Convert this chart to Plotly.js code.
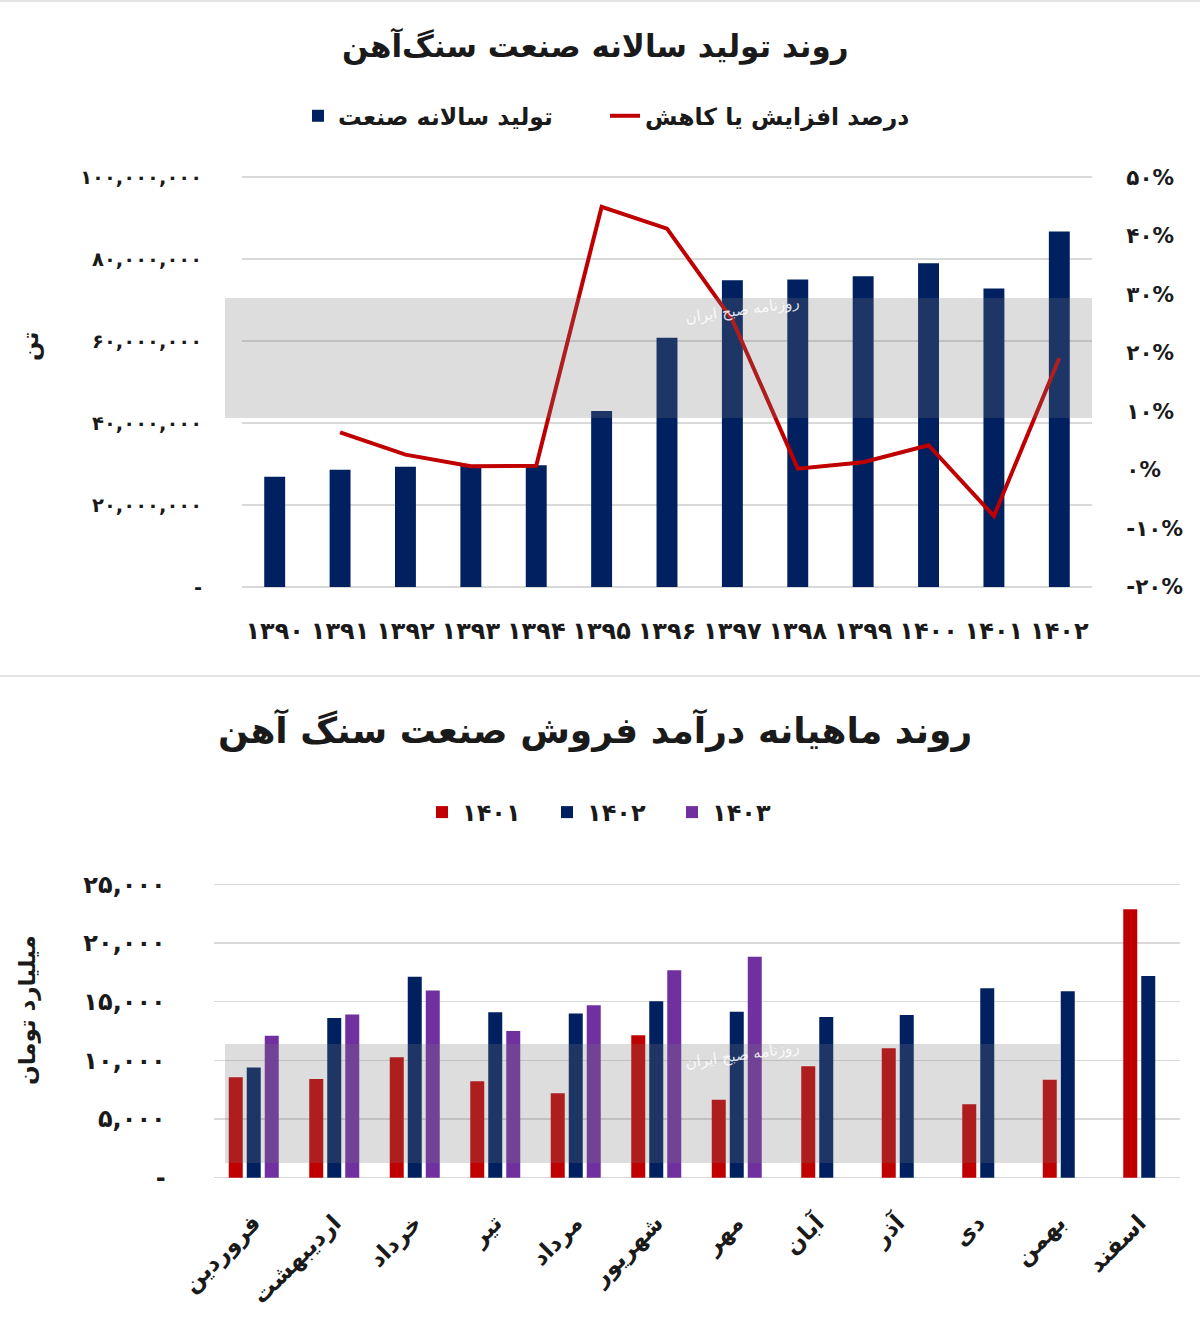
<!DOCTYPE html>
<html>
<head>
<meta charset="utf-8">
<script src="https://cdn.plot.ly/plotly-3.0.1.min.js"></script>
<style>
  html, body { margin: 0; padding: 0; background: #ffffff; }
  #chart { width: 1200px; height: 1337px; }
</style>
</head>
<body>
<div id="chart"></div>
<script>
// ---------- Data: top chart (annual production) ----------
const years = ['۱۳۹۰', '۱۳۹۱', '۱۳۹۲', '۱۳۹۳', '۱۳۹۴', '۱۳۹۵', '۱۳۹۶', '۱۳۹۷', '۱۳۹۸', '۱۳۹۹', '۱۴۰۰', '۱۴۰۱', '۱۴۰۲'];
const annualProduction = [26900000, 28600000, 29300000, 29600000, 29700000, 42900000, 60800000, 74800000, 75000000, 75800000, 79000000, 72800000, 86700000];
const changePercent = [null, 6.4, 2.6, 0.6, 0.7, 44.9, 41.2, 25.6, 0.2, 1.3, 4.2, -7.9, 19.1];

const prodTickVals = [0, 20000000, 40000000, 60000000, 80000000, 100000000];
const prodTickText = ['-', '۲۰,۰۰۰,۰۰۰', '۴۰,۰۰۰,۰۰۰', '۶۰,۰۰۰,۰۰۰', '۸۰,۰۰۰,۰۰۰', '۱۰۰,۰۰۰,۰۰۰'];
const pctTickVals = [-20, -10, 0, 10, 20, 30, 40, 50];
const pctTickText = ['-۲۰%', '-۱۰%', '۰%', '۱۰%', '۲۰%', '۳۰%', '۴۰%', '۵۰%'];

// ---------- Data: bottom chart (monthly revenue) ----------
const months = ['فروردین', 'اردیبهشت', 'خرداد', 'تیر', 'مرداد', 'شهریور', 'مهر', 'آبان', 'آذر', 'دی', 'بهمن', 'اسفند'];
const revenue1401 = [8550, 8410, 10260, 8210, 7190, 12130, 6650, 9490, 11030, 6250, 8350, 22870];
const revenue1402 = [9400, 13600, 17130, 14090, 14000, 15030, 14150, 13690, 13860, 16140, 15880, 17190];
const revenue1403 = [12100, 13900, 15940, 12500, 14690, 17670, 18830, null, null, null, null, null];
const revSeriesNames = ['۱۴۰۱', '۱۴۰۲', '۱۴۰۳'];

const revTickVals = [0, 5000, 10000, 15000, 20000, 25000];
const revTickText = ['-', '۵,۰۰۰', '۱۰,۰۰۰', '۱۵,۰۰۰', '۲۰,۰۰۰', '۲۵,۰۰۰'];

// ---------- Styles ----------
const NAVY = '#002060';
const RED = '#c00000';
const PURPLE = '#7030a0';
const GRID = '#d9d9d9';
const FONT = 'DejaVu Sans, Noto Sans, sans-serif';
const TXT = '#1a1a1a';

const W = 1200, H = 1337;
const px = v => v / W;
const py = v => 1 - v / H;
const PAD = 0.005; // small range padding so the edge gridlines are drawn
const padRange = (lo, hi) => [lo - (hi - lo) * PAD, hi + (hi - lo) * PAD];

// grouped-bar offsets: centre the bars that exist in each month
const revSeries = [revenue1401, revenue1402, revenue1403];
const revColors = [RED, NAVY, PURPLE];
const barW = 0.174, barStep = 0.2236;
function offsetsFor(sIdx) {
  return months.map((m, i) => {
    const present = revSeries.map(s => s[i] !== null && s[i] !== undefined);
    const n = present.filter(Boolean).length;
    let k = 0;
    for (let j = 0; j < sIdx; j++) if (present[j]) k++;
    const c = (k - (n - 1) / 2) * barStep;
    return c - barW / 2;
  });
}

const traces = [
  {
    type: 'bar', x: years, y: annualProduction, name: 'تولید سالانه صنعت',
    xaxis: 'x', yaxis: 'y', marker: { color: NAVY }, legend: 'legend'
  },
  {
    type: 'scatter', mode: 'lines', x: years, y: changePercent, name: 'درصد افزایش یا کاهش',
    xaxis: 'x', yaxis: 'y2', line: { color: RED, width: 4 }, legend: 'legend',
    connectgaps: false
  }
];
revSeries.forEach((s, idx) => {
  traces.push({
    type: 'bar', x: months, y: s, name: revSeriesNames[idx],
    xaxis: 'x2', yaxis: 'y3', marker: { color: revColors[idx] },
    width: barW, offset: offsetsFor(idx), legend: 'legend2'
  });
});

const tickFont = (size) => ({ family: FONT, size: size, color: TXT, weight: 'bold' });

const layout = {
  width: W, height: H,
  margin: { l: 0, r: 0, t: 0, b: 0 },
  paper_bgcolor: '#ffffff', plot_bgcolor: 'rgba(0,0,0,0)',
  barmode: 'overlay', bargap: 0.68,
  showlegend: true,
  font: { family: FONT, color: TXT },
  xaxis: {
    domain: [px(242), px(1092)], anchor: 'y', type: 'category',
    range: [-0.5, 12.5], showgrid: false, showline: false, zeroline: false,
    ticks: 'outside', ticklen: 20, tickcolor: 'rgba(0,0,0,0)',
    tickfont: tickFont(24), fixedrange: true
  },
  yaxis: {
    domain: [py(589), py(175)], anchor: 'x', range: padRange(0, 100000000),
    tickvals: prodTickVals, ticktext: prodTickText,
    showgrid: true, gridcolor: GRID, gridwidth: 1.5, zeroline: false, showline: false,
    ticks: 'outside', ticklen: 35, tickcolor: 'rgba(0,0,0,0)',
    tickfont: tickFont(19.5), fixedrange: true
  },
  yaxis2: {
    overlaying: 'y', side: 'right', anchor: 'x', range: padRange(-20, 50),
    tickvals: pctTickVals, ticktext: pctTickText,
    showgrid: false, zeroline: false, showline: false,
    ticks: 'outside', ticklen: 29, tickcolor: 'rgba(0,0,0,0)',
    tickfont: tickFont(21.5), fixedrange: true
  },
  xaxis2: {
    domain: [px(213.5), px(1179.5)], anchor: 'y3', type: 'category',
    range: [-0.5, 11.5], showgrid: false, showline: false, zeroline: false,
    ticks: 'outside', ticklen: 20, tickcolor: 'rgba(0,0,0,0)',
    tickangle: -45, tickfont: tickFont(23), fixedrange: true
  },
  yaxis3: {
    domain: [py(1179.2), py(882.8)], anchor: 'x2', range: padRange(0, 25000),
    tickvals: revTickVals, ticktext: revTickText,
    showgrid: true, gridcolor: GRID, gridwidth: 1.5, zeroline: false, showline: false,
    ticks: 'outside', ticklen: 42, tickcolor: 'rgba(0,0,0,0)',
    tickfont: tickFont(24), fixedrange: true
  },
  legend: {
    orientation: 'h', x: px(298), y: py(94), xanchor: 'left', yanchor: 'top',
    bgcolor: 'rgba(0,0,0,0)', font: { family: FONT, size: 23.5, color: TXT, weight: 'bold' },
    traceorder: 'normal', entrywidth: 262
  },
  legend2: {
    orientation: 'h', x: px(422), y: py(790), xanchor: 'left', yanchor: 'top',
    bgcolor: 'rgba(0,0,0,0)', font: { family: FONT, size: 24, color: TXT, weight: 'bold' },
    traceorder: 'normal', entrywidth: 80
  },
  annotations: [
    { text: 'روند تولید سالانه صنعت سنگ‌آهن', xref: 'paper', yref: 'paper', x: px(595), y: py(46),
      showarrow: false, xanchor: 'center', yanchor: 'middle',
      font: { family: FONT, size: 31, color: TXT, weight: 'bold' } },
    { text: 'روند ماهیانه درآمد فروش صنعت سنگ آهن', xref: 'paper', yref: 'paper', x: px(595), y: py(730),
      showarrow: false, xanchor: 'center', yanchor: 'middle',
      font: { family: FONT, size: 36, color: TXT, weight: 'bold' } },
    { text: 'تن', xref: 'paper', yref: 'paper', x: px(30), y: py(347), textangle: -90,
      showarrow: false, xanchor: 'center', yanchor: 'middle',
      font: { family: FONT, size: 23, color: TXT, weight: 'bold' } },
    { text: 'میلیارد تومان', xref: 'paper', yref: 'paper', x: px(27), y: py(1010), textangle: -90,
      showarrow: false, xanchor: 'center', yanchor: 'middle',
      font: { family: FONT, size: 23, color: TXT, weight: 'bold' } },
    { text: 'روزنامه صبح ایران', xref: 'paper', yref: 'paper', x: px(742), y: py(310), textangle: -8,
      showarrow: false, xanchor: 'center', yanchor: 'middle',
      font: { family: FONT, size: 15, color: 'rgba(255,255,255,0.85)' } },
    { text: 'روزنامه صبح ایران', xref: 'paper', yref: 'paper', x: px(742), y: py(1055), textangle: -8,
      showarrow: false, xanchor: 'center', yanchor: 'middle',
      font: { family: FONT, size: 15, color: 'rgba(255,255,255,0.85)' } }
  ],
  shapes: [
    // page separators
    { type: 'line', xref: 'paper', yref: 'paper', x0: 0, x1: 1, y0: py(1), y1: py(1),
      line: { color: '#e3e3e3', width: 2 } },
    { type: 'line', xref: 'paper', yref: 'paper', x0: 0, x1: 1, y0: py(676), y1: py(676),
      line: { color: '#e3e3e3', width: 2 } },
    // watermark bands
    { type: 'rect', xref: 'paper', yref: 'paper', x0: px(225), x1: px(1092), y0: py(418), y1: py(298),
      fillcolor: 'rgba(120,120,120,0.25)', line: { width: 0 }, layer: 'above' },
    { type: 'rect', xref: 'paper', yref: 'paper', x0: px(225), x1: px(1060), y0: py(1163), y1: py(1044),
      fillcolor: 'rgba(120,120,120,0.25)', line: { width: 0 }, layer: 'above' }
  ]
};

Plotly.newPlot('chart', traces, layout, { displayModeBar: false, staticPlot: true });
</script>
</body>
</html>
